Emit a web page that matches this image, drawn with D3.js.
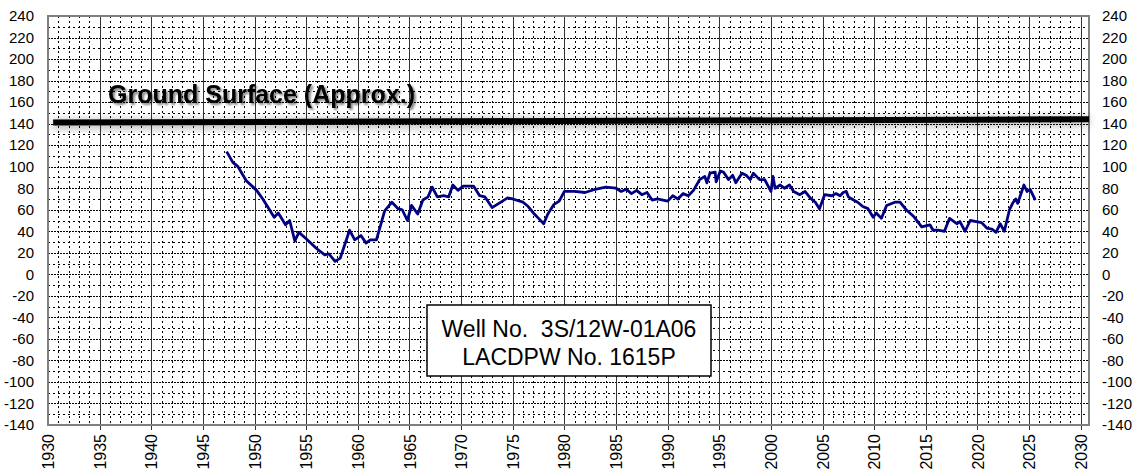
<!DOCTYPE html>
<html>
<head>
<meta charset="utf-8">
<script src="https://cdn.jsdelivr.net/npm/d3@7"></script>
<style>
  body { margin: 0; background: #fff; }
  text { font-family: Arial, "Liberation Sans", sans-serif; }
</style>
</head>
<body>
<div id="chart"></div>
<script>
// Well hydrograph data (decimal year, water level elevation in ft)
var years = [
  1947.3, 1947.9, 1948.4, 1949.2, 1950.2, 1950.8, 1951.9, 1952.3, 1953.0, 1953.4,
  1953.9, 1954.3, 1955.0, 1956.0, 1956.8, 1957.2, 1957.8, 1958.3, 1959.2, 1959.7,
  1960.3, 1960.8, 1961.2, 1961.8, 1962.6, 1963.3, 1963.9, 1964.3, 1964.8, 1965.2,
  1965.8, 1966.3, 1966.8, 1967.2, 1967.7, 1968.3, 1968.8, 1969.2, 1969.7, 1970.2,
  1971.2, 1971.8, 1972.3, 1973.0, 1973.5, 1974.5, 1975.0, 1976.0, 1976.5, 1977.0,
  1977.5, 1978.0, 1978.4, 1979.0, 1979.5, 1980.0, 1981.0, 1982.0, 1983.0, 1984.0,
  1985.0, 1985.5, 1986.0, 1986.5, 1987.0, 1987.5, 1988.0, 1988.5, 1989.0, 1990.0,
  1990.5, 1991.0, 1991.5, 1992.0, 1992.5, 1993.1, 1993.6, 1993.8, 1994.1, 1994.6,
  1994.7, 1995.1, 1995.4, 1995.9, 1996.3, 1996.6, 1997.2, 1997.6, 1998.0, 1998.3,
  1998.9, 1999.4, 2000.0, 2000.2, 2000.4, 2000.9, 2001.3, 2001.8, 2002.2, 2002.8,
  2003.3, 2003.8, 2004.3, 2004.7, 2005.2, 2005.9, 2006.3, 2006.7, 2007.0, 2007.3,
  2007.5, 2008.0, 2008.4, 2008.9, 2009.4, 2009.9, 2010.2, 2010.7, 2011.2, 2012.0,
  2012.5, 2013.1, 2013.8, 2014.6, 2015.4, 2015.7, 2016.2, 2016.8, 2017.3, 2018.0,
  2018.3, 2018.8, 2019.3, 2019.9, 2020.4, 2020.9, 2021.4, 2021.8, 2022.2, 2022.6,
  2023.1, 2023.4, 2023.7, 2023.9, 2024.5, 2024.8, 2025.1, 2025.6
];
var levels = [
  114, 104, 100, 87, 78, 70, 53, 57, 46, 50,
  31, 39, 33, 24, 18, 19, 12, 15, 41, 32,
  36, 29, 32, 32, 59, 67, 61, 60, 50, 64,
  56, 69, 72, 81, 72, 73, 72, 83, 78, 82,
  82, 73, 72, 62, 65, 71, 70, 67, 63, 57,
  52, 47, 56, 65, 68, 77, 77, 76, 79, 81,
  80, 77, 79, 75, 78, 74, 76, 69, 70, 68,
  73, 70, 75, 73, 78, 88, 91, 85, 94, 95,
  86, 96, 95, 88, 92, 85, 94, 92, 88, 94,
  88, 88, 77, 91, 80, 83, 80, 83, 77, 74,
  77, 71, 67, 61, 74, 73, 75, 73, 76, 77,
  72, 69, 67, 63, 61, 53, 57, 52, 64, 67,
  67, 60, 54, 44, 46, 41, 41, 40, 52, 47,
  49, 40, 50, 49, 48, 43, 42, 39, 47, 40,
  60, 66, 70, 66, 83, 77, 79, 69
];

// Approximate ground surface elevation
var groundYears = [1930.5, 2030.8];
var groundLevels = [141, 144];

// Axis tick values
var yearTicks = d3.range(1930, 2031, 5);
var levelTicks = d3.range(-140, 241, 20);

// Labels
var groundLabel = "Ground Surface (Approx.)";
var wellLabels = ["Well No.  3S/12W-01A06", "LACDPW No. 1615P"];

// Define SVG area size
var svgWidth = 1144;
var svgHeight = 472;

// Plot area bounds
var margin = { top: 16, right: 55, bottom: 47, left: 48 };
var width = svgWidth - margin.left - margin.right;
var height = svgHeight - margin.top - margin.bottom;

var svg = d3.select("#chart")
  .append("svg")
  .attr("width", svgWidth)
  .attr("height", svgHeight);

// shadow filter for the ground surface line and label
var defs = svg.append("defs");
var shadow = defs.append("filter")
  .attr("id", "shadow")
  .attr("x", "-5%").attr("y", "-300%")
  .attr("width", "110%").attr("height", "700%");
shadow.append("feGaussianBlur")
  .attr("in", "SourceAlpha")
  .attr("stdDeviation", 5);
shadow.append("feOffset").attr("dy", 2).attr("result", "blur");
shadow.append("feComponentTransfer")
  .append("feFuncA").attr("type", "linear").attr("slope", 0.4);
var merge = shadow.append("feMerge");
merge.append("feMergeNode");
merge.append("feMergeNode").attr("in", "SourceGraphic");

var textShadow = defs.append("filter").attr("id", "tshadow");
textShadow.append("feGaussianBlur").attr("in", "SourceAlpha").attr("stdDeviation", 1.2);
textShadow.append("feOffset").attr("dx", 2).attr("dy", 2);
textShadow.append("feComponentTransfer")
  .append("feFuncA").attr("type", "linear").attr("slope", 0.5);
var tmerge = textShadow.append("feMerge");
tmerge.append("feMergeNode");
tmerge.append("feMergeNode").attr("in", "SourceGraphic");

var chartGroup = svg.append("g")
  .attr("transform", `translate(${margin.left}, ${margin.top})`);

// scales
var xScale = d3.scaleLinear()
  .domain([1930, 2030.8])
  .range([0, width]);

var yScale = d3.scaleLinear()
  .domain([-140, 240])
  .range([height, 0]);

// white plot background
chartGroup.append("rect")
  .attr("width", width)
  .attr("height", height)
  .attr("fill", "#fff");

// horizontal grid: every 10 ft dotted
chartGroup.append("g")
  .selectAll("line")
  .data(d3.range(-130, 240, 10))
  .enter()
  .append("line")
  .attr("x1", 0)
  .attr("x2", width)
  .attr("y1", d => Math.round(yScale(d)) + 0.5)
  .attr("y2", d => Math.round(yScale(d)) + 0.5)
  .attr("stroke", "#000")
  .attr("stroke-width", 1)
  .attr("stroke-dasharray", d => d % 20 === 0 ? "2,1" : "2,3");

// vertical grid: every year dotted
chartGroup.append("g")
  .selectAll("line")
  .data(d3.range(1931, 2031, 1).filter(d => d % 5 !== 0))
  .enter()
  .append("line")
  .attr("x1", d => Math.round(xScale(d)) + 0.5)
  .attr("x2", d => Math.round(xScale(d)) + 0.5)
  .attr("y1", 0)
  .attr("y2", height)
  .attr("stroke", "#000")
  .attr("stroke-width", 1)
  .attr("stroke-dasharray", "2,3");

// vertical grid: every 5 years solid
chartGroup.append("g")
  .selectAll("line")
  .data(yearTicks.slice(1))
  .enter()
  .append("line")
  .attr("x1", d => Math.round(xScale(d)) + 0.5)
  .attr("x2", d => Math.round(xScale(d)) + 0.5)
  .attr("y1", 0)
  .attr("y2", height + 5)
  .attr("stroke", "#333")
  .attr("stroke-width", 1);

// plot frame
chartGroup.append("rect")
  .attr("width", width)
  .attr("height", height)
  .attr("fill", "none")
  .attr("stroke", "#808080")
  .attr("stroke-width", 2);

// ground surface line
var groundData = groundYears.map((d, i) => ({ year: d, level: groundLevels[i] }));
chartGroup.append("path")
  .datum(groundData)
  .attr("d", d3.line().x(d => xScale(d.year)).y(d => yScale(d.level)))
  .attr("fill", "none")
  .attr("stroke", "#000")
  .attr("stroke-width", 6)
  .attr("filter", "url(#shadow)");

// ground surface label
chartGroup.append("text")
  .attr("x", 108 - margin.left)
  .attr("y", 103 - margin.top)
  .attr("font-size", "25px")
  .attr("font-weight", "bold")
  .attr("filter", "url(#tshadow)")
  .text(groundLabel);

// water level series
var seriesData = years.map((d, i) => ({ year: d, level: levels[i] }));
chartGroup.append("path")
  .datum(seriesData)
  .attr("d", d3.line().x(d => xScale(d.year)).y(d => yScale(d.level)))
  .attr("fill", "none")
  .attr("stroke", "#000080")
  .attr("stroke-width", 2.8)
  .attr("stroke-linejoin", "round");

// well label box
var boxGroup = svg.append("g");
boxGroup.append("rect")
  .attr("x", 427)
  .attr("y", 305)
  .attr("width", 284)
  .attr("height", 71)
  .attr("fill", "#fff")
  .attr("stroke", "#000")
  .attr("stroke-width", 1.5);

boxGroup.selectAll("text")
  .data(wellLabels)
  .enter()
  .append("text")
  .attr("x", 569)
  .attr("y", (d, i) => 337 + i * 28)
  .attr("text-anchor", "middle")
  .attr("font-size", "23px")
  .style("white-space", "pre")
  .text(d => d);

// tick labels with plain hyphen minus
var fmt = d => String(d);

// left axis labels
var leftAxis = d3.axisLeft(yScale)
  .tickValues(levelTicks)
  .tickSize(0)
  .tickPadding(14)
  .tickFormat(fmt);
chartGroup.append("g")
  .call(leftAxis)
  .call(g => g.select(".domain").remove())
  .selectAll("text")
  .attr("font-size", "15px")
  .attr("font-family", "Arial, 'Liberation Sans', sans-serif")
  .attr("fill", "#000");

// right axis labels
var rightAxis = d3.axisRight(yScale)
  .tickValues(levelTicks)
  .tickSize(0)
  .tickPadding(13)
  .tickFormat(fmt);
chartGroup.append("g")
  .attr("transform", `translate(${width}, 0)`)
  .call(rightAxis)
  .call(g => g.select(".domain").remove())
  .selectAll("text")
  .attr("font-size", "15px")
  .attr("font-family", "Arial, 'Liberation Sans', sans-serif")
  .attr("fill", "#000");

// bottom axis labels, rotated
var bottomAxis = d3.axisBottom(xScale)
  .tickValues(yearTicks)
  .tickSize(0)
  .tickFormat(fmt);
chartGroup.append("g")
  .attr("transform", `translate(0, ${height})`)
  .call(bottomAxis)
  .call(g => g.select(".domain").remove())
  .selectAll("text")
  .attr("font-size", "16px")
  .attr("font-family", "Arial, 'Liberation Sans', sans-serif")
  .attr("fill", "#000")
  .attr("text-anchor", "end")
  .attr("transform", "rotate(-90)")
  .attr("x", -9)
  .attr("y", 0)
  .attr("dy", "0.35em");
</script>
</body>
</html>
